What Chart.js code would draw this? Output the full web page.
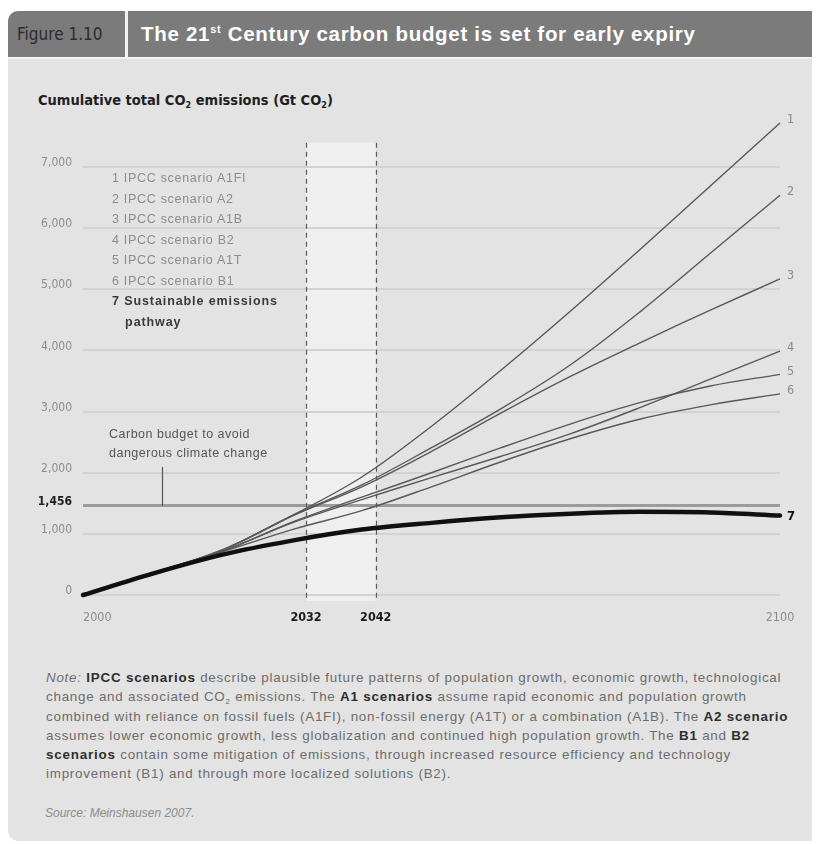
<!DOCTYPE html>
<html>
<head>
<meta charset="utf-8">
<script src="https://cdn.jsdelivr.net/npm/chart.js@4.4.1/dist/chart.umd.min.js"></script>
<style>
  body { margin: 0; width: 818px; height: 844px; background: #fff; position: relative; overflow: hidden;
         font-family: "Liberation Sans", Arial, sans-serif; }
  .abs { position: absolute; }
  #panel { left: 8px; top: 11px; width: 804px; height: 830px; background: #e3e3e3; border-radius: 10px 0 0 10px; }
  #head { left: 8px; top: 11px; width: 804px; height: 46px; background: #7b7b7b; border-radius: 10px 0 0 0; }
  #fig { left: 17px; top: 11px; line-height: 46px; font-family: "Liberation Sans Narrow", "DejaVu Sans Condensed", sans-serif;
         font-size: 17px; color: #2c2c2c; }
  #sep { left: 125px; top: 11px; width: 3px; height: 46px; background: #f2f2f2; }
  #title { left: 141px; top: 11px; line-height: 46px; font-size: 20.5px; letter-spacing: 0.7px; font-weight: bold; color: #fff; white-space: nowrap; }
  #title sup { font-size: 11px; vertical-align: 8px; line-height: 0; }
  #hline { left: 8px; top: 57px; width: 804px; height: 2px; background: #f1f1f1; }
  #ytitle { left: 38px; top: 92px; font-family: "Liberation Sans Narrow", "DejaVu Sans Condensed", sans-serif;
            font-size: 14.5px; font-weight: bold; color: #1e1e1e; white-space: nowrap; }
  #ytitle sub { font-size: 9px; vertical-align: -3px; line-height: 0; }
  #chart { left: 0; top: 100px; }
  #legend { left: 112px; top: 168px; font-size: 12.5px; letter-spacing: 0.7px; color: #8c8c8c; line-height: 20.5px; white-space: nowrap; }
  #legend .bold { color: #3a3a3a; font-weight: bold; letter-spacing: 0.9px; }
  #budget { left: 109px; top: 425px; font-size: 12.5px; letter-spacing: 0.5px; color: #555; line-height: 18.5px; white-space: nowrap; }
  #note { left: 46px; top: 668px; font-size: 13.4px; color: #6c6c6c; line-height: 19.3px; white-space: nowrap; letter-spacing: 0.75px; }
  #note b { color: #2e2e2e; letter-spacing: 0.8px; }
  #note sub { font-size: 8px; vertical-align: -3px; line-height: 0; }
  #source { left: 45px; top: 806px; font-size: 12px; font-style: italic; color: #8c8c8c; }
</style>
</head>
<body>
<div id="panel" class="abs"></div>
<div id="head" class="abs"></div>
<div id="fig" class="abs">Figure 1.10</div>
<div id="sep" class="abs"></div>
<div id="title" class="abs">The 21<sup>st</sup> Century carbon budget is set for early expiry</div>
<div id="hline" class="abs"></div>
<div id="ytitle" class="abs">Cumulative total CO<sub>2</sub> emissions (Gt CO<sub>2</sub>)</div>
<canvas id="chart" class="abs" width="818" height="540"></canvas>
<div id="legend" class="abs"></div>
<div id="budget" class="abs">Carbon budget to avoid<br>dangerous climate change</div>
<div id="note" class="abs">
<i>Note:</i> <b>IPCC scenarios</b> describe plausible future patterns of population growth, economic growth, technological<br>
change and associated CO<sub>2</sub> emissions. The <b>A1 scenarios</b> assume rapid economic and population growth<br>
combined with reliance on fossil fuels (A1FI), non-fossil energy (A1T) or a combination (A1B). The <b>A2 scenario</b><br>
assumes lower economic growth, less globalization and continued high population growth. The <b>B1</b> and <b>B2</b><br>
<b>scenarios</b> contain some mitigation of emissions, through increased resource efficiency and technology<br>
improvement (B1) and through more localized solutions (B2).
</div>
<div id="source" class="abs">Source: Meinshausen 2007.</div>

<script>
// cumulative CO2 emissions, Gt CO2
const years = [2000, 2010, 2020, 2030, 2040, 2050, 2060, 2070, 2080, 2090, 2100];
const a1fi = [0, 360, 740, 1300, 1930, 2760, 3680, 4650, 5660, 6690, 7720];
const a2 = [0, 360, 735, 1300, 1800, 2410, 3050, 3770, 4640, 5590, 6540];
const a1b = [0, 360, 735, 1290, 1770, 2350, 2980, 3580, 4130, 4660, 5170];
const b2 = [0, 355, 715, 1180, 1560, 1920, 2270, 2640, 3070, 3530, 3990];
const a1t = [0, 355, 715, 1190, 1600, 2000, 2410, 2800, 3150, 3420, 3610];
const b1 = [0, 355, 705, 1070, 1380, 1770, 2180, 2560, 2880, 3110, 3290];
const sustainable = [0, 350, 660, 890, 1070, 1180, 1270, 1330, 1360, 1350, 1300];

const scenarioNames = ['IPCC scenario A1FI', 'IPCC scenario A2', 'IPCC scenario A1B',
  'IPCC scenario B2', 'IPCC scenario A1T', 'IPCC scenario B1'];

const yTicks = [0, 1000, 1456, 2000, 3000, 4000, 5000, 6000, 7000];
const xTicks = [2000, 2032, 2042, 2100];
const budget = 1456;
const expiry = [2032, 2042];

const narrow = '"Liberation Sans Narrow", "DejaVu Sans Condensed", sans-serif';

// legend text inside the plot
let legendHtml = scenarioNames.map((n, i) => (i + 1) + ' ' + n).join('<br>');
legendHtml += '<br><span class="bold">7 Sustainable emissions<br>&nbsp;&nbsp;&nbsp;pathway</span>';
document.getElementById('legend').innerHTML = legendHtml;

const series = [a1fi, a2, a1b, b2, a1t, b1];
const datasets = series.map((s, i) => ({
  label: String(i + 1),
  data: years.map((yr, j) => ({ x: yr, y: s[j] })),
  borderColor: '#585858',
  borderWidth: 1.4,
  pointRadius: 0,
  tension: 0.35,
  clip: false,
  order: 1
}));
datasets.push({
  label: '7',
  data: years.map((yr, j) => ({ x: yr, y: sustainable[j] })),
  borderColor: '#101010',
  borderWidth: 4.5,
  borderCapStyle: 'round',
  pointRadius: 0,
  cubicInterpolationMode: 'monotone',
  clip: false,
  order: 0
});

const isBudget = ctx => !!(ctx && ctx.tick && ctx.tick.value === budget);

const decor = {
  id: 'decor',
  beforeDraw(chart) {
    const { ctx, chartArea, scales: { x, y } } = chart;
    const x1 = x.getPixelForValue(expiry[0]), x2 = x.getPixelForValue(expiry[1]);
    const top = y.getPixelForValue(7400);
    ctx.save();
    ctx.fillStyle = '#efefef';
    ctx.fillRect(x1, top, x2 - x1, chartArea.bottom + 6 - top);
    ctx.restore();
  },
  beforeDatasetsDraw(chart) {
    const { ctx, chartArea, scales: { x, y } } = chart;
    const top = y.getPixelForValue(7400);
    ctx.save();
    ctx.strokeStyle = '#5a5a5a';
    ctx.lineWidth = 1.2;
    ctx.setLineDash([5, 4]);
    expiry.forEach(v => {
      const px = Math.round(x.getPixelForValue(v)) + 0.5;
      ctx.beginPath();
      ctx.moveTo(px, top);
      ctx.lineTo(px, chartArea.bottom + 6);
      ctx.stroke();
    });
    // pointer from the annotation down to the budget line
    ctx.setLineDash([]);
    ctx.strokeStyle = '#555';
    ctx.lineWidth = 1.2;
    const tx = Math.round(x.getPixelForValue(2011.3)) + 0.5;
    ctx.beginPath();
    ctx.moveTo(tx, y.getPixelForValue(budget + 640));
    ctx.lineTo(tx, y.getPixelForValue(budget));
    ctx.stroke();
    ctx.restore();
  },
  afterDraw(chart) {
    const { ctx, chartArea, scales: { x, y } } = chart;
    ctx.save();
    // x axis labels
    ctx.textBaseline = 'middle';
    xTicks.forEach((v, i) => {
      const special = expiry.includes(v);
      ctx.font = (special ? 'bold ' : '') + '12.5px ' + narrow;
      ctx.fillStyle = special ? '#1a1a1a' : '#8c8c8c';
      ctx.textAlign = i === 0 ? 'left' : 'center';
      ctx.fillText(String(v), x.getPixelForValue(v), chartArea.bottom + 23);
    });
    // series numbers at the end of each line
    chart.data.datasets.forEach(ds => {
      const last = ds.data[ds.data.length - 1];
      const px = x.getPixelForValue(last.x) + 7;
      const py = y.getPixelForValue(last.y) - 3;
      const bold = ds.label === '7';
      ctx.font = (bold ? 'bold 13px ' : '12.5px ') + narrow;
      ctx.fillStyle = bold ? '#111' : '#8a8a8a';
      ctx.textAlign = 'left';
      ctx.fillText(ds.label, px, bold ? py + 4 : py);
    });
    ctx.restore();
  }
};

new Chart(document.getElementById('chart'), {
  type: 'line',
  data: { datasets },
  options: {
    responsive: false,
    animation: false,
    layout: { padding: { top: 15, right: 38, bottom: 45, left: 0 } },
    plugins: { legend: { display: false }, tooltip: { enabled: false } },
    scales: {
      x: {
        type: 'linear', min: 2000, max: 2100,
        display: false
      },
      y: {
        min: 0, max: 7800,
        afterFit(scale) { scale.width = 83; },
        afterBuildTicks(scale) { scale.ticks = yTicks.map(v => ({ value: v })); },
        border: { display: false },
        grid: {
          drawTicks: false,
          color: ctx => isBudget(ctx) ? '#9c9c9c' : '#d2d2d2',
          lineWidth: ctx => isBudget(ctx) ? 3 : 2
        },
        ticks: {
          autoSkip: false,
          padding: 11,
          labelOffset: -4,
          color: ctx => isBudget(ctx) ? '#1e1e1e' : '#8c8c8c',
          font: ctx => ({ family: narrow, size: 12, weight: isBudget(ctx) ? 'bold' : 'normal' }),
          callback: v => v.toLocaleString('en-US')
        }
      }
    }
  },
  plugins: [decor]
});
</script>
</body>
</html>
